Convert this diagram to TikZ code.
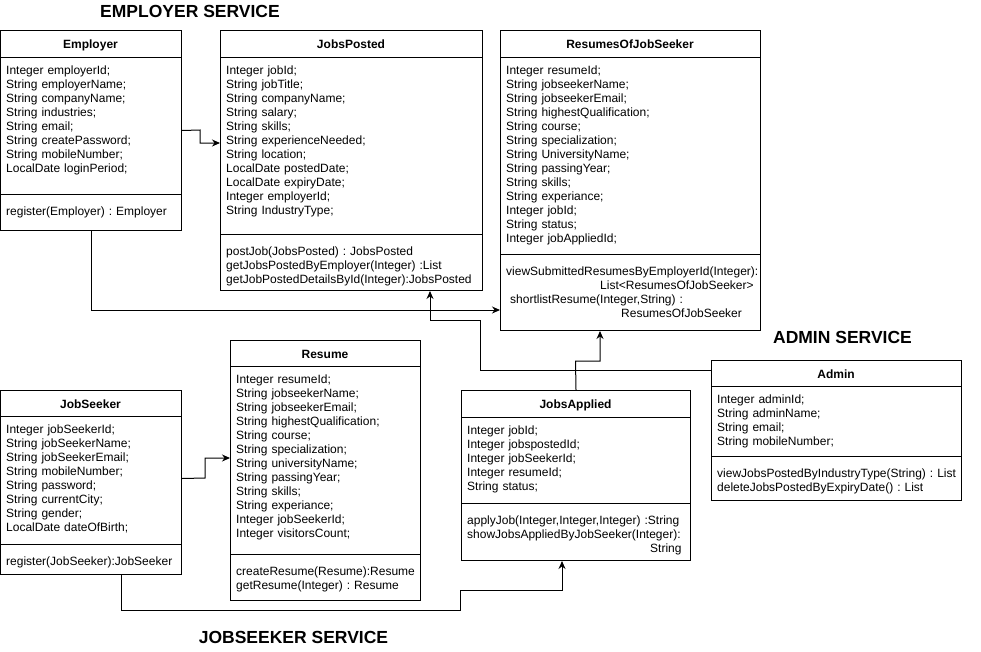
\documentclass[tikz,border=0pt]{standalone}
\usepackage{fontspec}
\setmainfont{Liberation Sans}
\usetikzlibrary{arrows.meta}
\frenchspacing

\begin{document}
\begin{tikzpicture}[x=1pt, y=-1pt,
    classbox/.style={draw, line width=1pt, anchor=north west, inner sep=0pt},
    compline/.style={line width=1pt},
    classname/.style={anchor=base, font=\bfseries\fontsize{12}{14}\selectfont},
    members/.style={anchor=base west, align=left, text width=250pt, inner sep=0pt,
        font=\fontsize{12}{14}\selectfont},
    service/.style={anchor=base, font=\bfseries\fontsize{17.5}{20}\selectfont},
    assoc/.style={line width=1pt, -{Stealth[length=8pt, width=7pt]}}]
    \useasboundingbox (0,0) rectangle (981,651);

    % Service titles
    \node[service] (empservice) at (190,17) {EMPLOYER SERVICE};
    \node[service] (adminservice) at (842.5,343) {ADMIN SERVICE};
    \node[service] (seekerservice) at (293.5,643) {JOBSEEKER SERVICE};

    % Employer
    \node[classbox, minimum width=181, minimum height=200] (employer) at (0,30) {};
    \draw[compline] (0,57) -- (181,57);
    \draw[compline] (0,194) -- (181,194);
    \node[classname] at (90.5,48) {Employer};
    \node[members] at (6,74) {Integer employerId;\\ String employerName;\\ String companyName;\\
        String industries;\\ String email;\\ String createPassword;\\ String mobileNumber;\\
        LocalDate loginPeriod;};
    \node[members] at (6,215) {register(Employer) : Employer};

    % JobsPosted
    \node[classbox, minimum width=262, minimum height=260] (jobsposted) at (220,30) {};
    \draw[compline] (220,57) -- (482,57);
    \draw[compline] (220,234) -- (482,234);
    \node[classname] at (351,48) {JobsPosted};
    \node[members] at (226,74) {Integer jobId;\\ String jobTitle;\\ String companyName;\\
        String salary;\\ String skills;\\ String experienceNeeded;\\ String location;\\
        LocalDate postedDate;\\ LocalDate expiryDate;\\ Integer employerId;\\ String IndustryType;};
    \node[members] at (226,255) {postJob(JobsPosted) : JobsPosted\\
        getJobsPostedByEmployer(Integer) :List\\ getJobPostedDetailsById(Integer):JobsPosted};

    % ResumesOfJobSeeker
    \node[classbox, minimum width=260, minimum height=300] (resumes) at (500,30) {};
    \draw[compline] (500,57) -- (760,57);
    \draw[compline] (500,254) -- (760,254);
    \node[classname] at (630,48) {ResumesOfJobSeeker};
    \node[members] at (506,74) {Integer resumeId;\\ String jobseekerName;\\ String jobseekerEmail;\\
        String highestQualification;\\ String course;\\ String specialization;\\
        String UniversityName;\\ String passingYear;\\ String skills;\\ String experiance;\\
        Integer jobId;\\ String status;\\ Integer jobAppliedId;};
    \node[members] at (506,275) {viewSubmittedResumesByEmployerId(Integer):\\
        \hspace*{94pt}List<ResumesOfJobSeeker>\\ \hspace*{4pt}shortlistResume(Integer,String) :\\
        \hspace*{115pt}ResumesOfJobSeeker};

    % JobSeeker
    \node[classbox, minimum width=181, minimum height=184] (jobseeker) at (0,390) {};
    \draw[compline] (0,416) -- (181,416);
    \draw[compline] (0,544) -- (181,544);
    \node[classname] at (90.5,408) {JobSeeker};
    \node[members] at (6,433) {Integer jobSeekerId;\\ String jobSeekerName;\\ String jobSeekerEmail;\\
        String mobileNumber;\\ String password;\\ String currentCity;\\ String gender;\\
        LocalDate dateOfBirth;};
    \node[members] at (6,565) {register(JobSeeker):JobSeeker};

    % Resume
    \node[classbox, minimum width=190, minimum height=260] (resume) at (230,340) {};
    \draw[compline] (230,366) -- (420,366);
    \draw[compline] (230,554) -- (420,554);
    \node[classname] at (325,358) {Resume};
    \node[members] at (236,383) {Integer resumeId;\\ String jobseekerName;\\ String jobseekerEmail;\\
        String highestQualification;\\ String course;\\ String specialization;\\
        String universityName;\\ String passingYear;\\ String skills;\\ String experiance;\\
        Integer jobSeekerId;\\ Integer visitorsCount;};
    \node[members] at (236,575) {createResume(Resume):Resume\\ getResume(Integer) : Resume};

    % JobsApplied
    \node[classbox, minimum width=229, minimum height=170] (jobsapplied) at (461,390) {};
    \draw[compline] (461,417) -- (690,417);
    \draw[compline] (461,503) -- (690,503);
    \node[classname] at (575.5,408) {JobsApplied};
    \node[members] at (467,434) {Integer jobId;\\ Integer jobspostedId;\\ Integer jobSeekerId;\\
        Integer resumeId;\\ String status;};
    \node[members] at (467,524) {applyJob(Integer,Integer,Integer) :String\\
        showJobsAppliedByJobSeeker(Integer):\\ \hspace*{183pt}String};

    % Admin
    \node[classbox, minimum width=250, minimum height=140] (admin) at (711,360) {};
    \draw[compline] (711,386) -- (961,386);
    \draw[compline] (711,456) -- (961,456);
    \node[classname] at (836,378) {Admin};
    \node[members] at (717,403) {Integer adminId;\\ String adminName;\\ String email;\\
        String mobileNumber;};
    \node[members] at (717,477) {viewJobsPostedByIndustryType(String) : List\\
        deleteJobsPostedByExpiryDate() : List};

    % Associations
    \draw[assoc] (employer.east) -- (200,130) -- (200,143) -- (jobsposted.west |- 0,143);
    \draw[assoc] (employer.south) |- (resumes.west |- 0,310);
    \draw[assoc] ([yshift=-10pt]admin.north west) -- (480,370) -- (480,320) -- (430,320)
        -- (430,0 |- jobsposted.south);
    \draw[assoc] (jobsapplied.north) -- (575.5,361) -- (600,361) -- (600,0 |- resumes.south);
    \draw[assoc] ([yshift=4pt]jobseeker.east) -- (205,478) -- (205,458) -- (resume.west |- 0,458);
    \draw[assoc] (121,0 |- jobseeker.south) -- (121,610) -- (460,610) -- (460,590) -- (562,590)
        -- (562,0 |- jobsapplied.south);
\end{tikzpicture}
\end{document}
